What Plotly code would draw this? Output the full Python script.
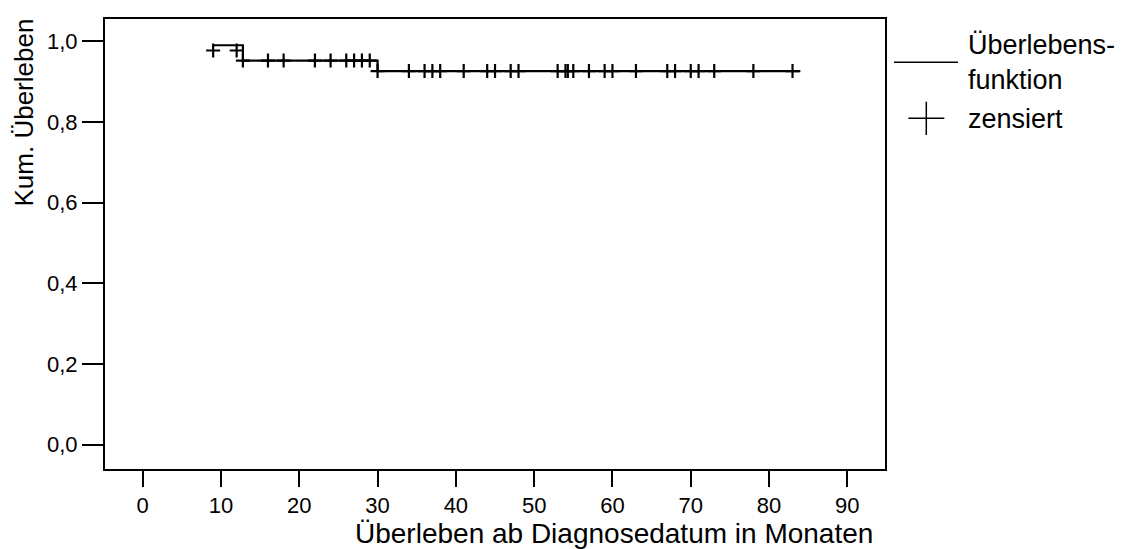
import plotly.graph_objects as go

# ---- data ----
step_times = [9, 12.8, 30.0, 84.0]          # start, events, end of follow-up
step_surv = [0.990, 0.952, 0.926, 0.926]    # survival level after each point

censor_times_a = [9, 12]
censor_surv_a = 0.977
censor_times_b = [12.8, 16, 18, 22, 24, 26, 27, 28, 29]
censor_surv_b = 0.952
censor_times_c = [30, 34, 36, 37, 38, 41, 44, 45, 47, 48, 53, 54, 54.3, 55,
                  57, 59, 60, 63, 67, 68, 70, 71, 73, 78, 83]
censor_surv_c = 0.926

x_ticks = [0, 10, 20, 30, 40, 50, 60, 70, 80, 90]
y_ticks = [0.0, 0.2, 0.4, 0.6, 0.8, 1.0]
y_tick_labels = ["0,0", "0,2", "0,4", "0,6", "0,8", "1,0"]

x_title = "Überleben ab Diagnosedatum in Monaten"
y_title = "Kum. Überleben"
legend_line_label = "Überlebens-<br>funktion"
legend_cross_label = "zensiert"

# ---- figure geometry ----
W, H = 1139, 549
L, R, T, B = 105, 885, 19, 469
pw, ph = R - L, B - T


def px(x):
    return (x - L) / pw


def py(y):
    return (B - y) / ph


FONT = "Arial, Liberation Sans, sans-serif"

fig = go.Figure()

fig.add_trace(go.Scatter(
    x=step_times, y=step_surv, mode="lines", line_shape="hv",
    line=dict(color="black", width=2.2), showlegend=False, hoverinfo="skip"))

cx = censor_times_a + censor_times_b + censor_times_c
cy = ([censor_surv_a] * len(censor_times_a) + [censor_surv_b] * len(censor_times_b)
      + [censor_surv_c] * len(censor_times_c))
fig.add_trace(go.Scatter(
    x=cx, y=cy, mode="markers",
    marker=dict(symbol="cross-thin", size=10, line=dict(color="black", width=2.2)),
    showlegend=False, hoverinfo="skip"))

fig.update_xaxes(
    range=[-4.815, 94.81], tickvals=x_ticks, ticks="outside", ticklen=16,
    tickwidth=2, tickcolor="black", showline=True, linecolor="black",
    linewidth=2, mirror=True, showgrid=False, zeroline=False,
    tickfont=dict(family=FONT, size=22, color="black"))
fig.update_yaxes(
    range=[-0.0602, 1.0551], tickvals=y_ticks, ticktext=y_tick_labels,
    ticks="outside", ticklen=21, tickwidth=2, tickcolor="black",
    showline=True, linecolor="black", linewidth=2, mirror=True,
    showgrid=False, zeroline=False,
    tickfont=dict(family=FONT, size=22, color="black"))

annotations = [
    dict(text=x_title, x=px(614), y=py(533), xref="paper", yref="paper",
         xanchor="center", yanchor="middle", showarrow=False,
         font=dict(family=FONT, size=28, color="black")),
    dict(text=y_title, x=px(24), y=py(112.5), xref="paper", yref="paper",
         xanchor="center", yanchor="middle", textangle=-90, showarrow=False,
         font=dict(family=FONT, size=26, color="black")),
    dict(text=legend_line_label, x=px(966), y=py(63), xref="paper", yref="paper",
         xanchor="left", yanchor="middle", align="left", showarrow=False,
         font=dict(family=FONT, size=27, color="black")),
    dict(text=legend_cross_label, x=px(966), y=py(119), xref="paper", yref="paper",
         xanchor="left", yanchor="middle", align="left", showarrow=False,
         font=dict(family=FONT, size=27, color="black")),
]

shapes = [
    dict(type="line", xref="paper", yref="paper", x0=px(894), x1=px(958),
         y0=py(62.3), y1=py(62.3), line=dict(color="black", width=1.5)),
    dict(type="line", xref="paper", yref="paper", x0=px(908.3), x1=px(944.3),
         y0=py(118.3), y1=py(118.3), line=dict(color="black", width=1.5)),
    dict(type="line", xref="paper", yref="paper", x0=px(926.3), x1=px(926.3),
         y0=py(101.7), y1=py(135), line=dict(color="black", width=1.5)),
]

fig.update_layout(
    width=W, height=H, margin=dict(l=L, r=W - R, t=T, b=H - B),
    paper_bgcolor="white", plot_bgcolor="white",
    annotations=annotations, shapes=shapes, showlegend=False)

fig.write_html("out.html")
